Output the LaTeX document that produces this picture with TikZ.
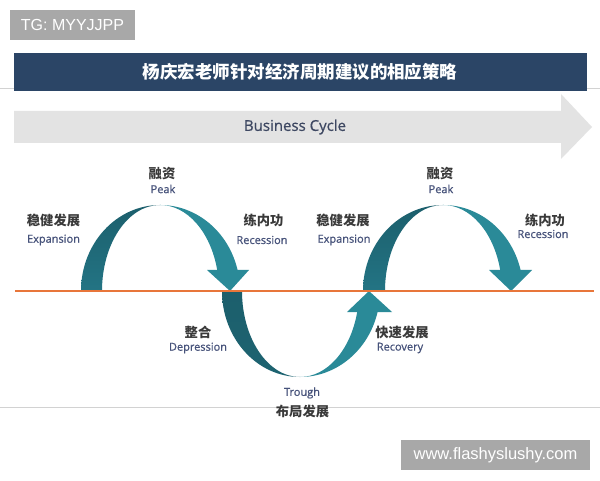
\documentclass[tikz,border=0pt]{standalone}
\usepackage{fontspec}
\setmainfont{Open Sans}
\newfontfamily\ensemi[FakeBold=0.7]{Open Sans}
\newfontfamily\cjk{Noto Sans CJK SC}
\newfontfamily\lib{Liberation Sans}
\definecolor{navy}{HTML}{2B4566}
\definecolor{cngray}{HTML}{3A3A3A}
\definecolor{engray}{HTML}{46527A}
\definecolor{bcgray}{HTML}{3E4862}
\definecolor{arrowgray}{HTML}{E3E3E3}
\definecolor{boxgray}{HTML}{A8A8A8}
\definecolor{rulegray}{HTML}{D2D2D2}
\definecolor{orangeline}{HTML}{E8763A}
\definecolor{tealdark}{HTML}{1C5F6C}
\definecolor{tealmid}{HTML}{237484}
\definecolor{teallight}{HTML}{2A8A98}
\tikzset{
  cn/.style={font=\cjk\bfseries\fontsize{13.3}{15}\selectfont, text=cngray, inner sep=0pt},
  en/.style={font=\ensemi\fontsize{11}{13}\selectfont, text=engray, inner sep=0pt},
  darkhalf/.style={top color=tealdark, bottom color=tealmid, draw=none},
  troughhalf/.style={top color=tealdark, bottom color=tealdark!80!tealmid, draw=none},
  lighthalf/.style={fill=teallight, draw=none},
  wmbox/.style={fill=boxgray, text=white, inner sep=0pt, font=\lib\fontsize{16}{18}\selectfont},
}
\begin{document}
\begin{tikzpicture}[x=1pt,y=1pt]
\useasboundingbox (0,0) rectangle (600,480);
\fill[white] (0,0) rectangle (600,480);

% thin rules
\draw[rulegray, line width=1pt] (0,391) -- (600,391);
\draw[rulegray, line width=1pt] (0,73) -- (600,73);

% watermark boxes
\fill[boxgray] (10,440) rectangle (135,470);
\node[wmbox, anchor=center] (tg) at (72.5,455) {TG: MYYJJPP};
\fill[boxgray] (401,10) rectangle (590,40);
\node[wmbox, font=\lib\fontsize{16.5}{18}\selectfont, anchor=center] (www) at (495.5,25) {www.flashyslushy.com};

% title bar
\fill[navy] (14,389) rectangle (587,427);
\node[font=\cjk\bfseries\fontsize{17.5}{20}\selectfont, text=white, inner sep=0pt] (title) at (300,408) {杨庆宏老师针对经济周期建议的相应策略};

% business cycle arrow
\fill[arrowgray] (14,337) -- (561,337) -- (561,321) -- (592,353) -- (561,386) -- (561,369) -- (14,369) -- cycle;
\node[font=\ensemi\fontsize{15}{17}\selectfont, text=bcgray, inner sep=0pt] (bc) at (295,353) {Business Cycle};

% arch 1
\path[darkhalf] (81,189) arc[start angle=180,end angle=90,x radius=79pt,y radius=86pt]
   arc[start angle=90,end angle=180,x radius=58pt,y radius=86pt] -- cycle;
\path[lighthalf] (160,275) arc[start angle=90,end angle=14.1,x radius=80pt,y radius=86pt]
   -- (217.2,210) arc[start angle=14.1,end angle=90,x radius=59pt,y radius=86pt] -- cycle;
\path[lighthalf] (207,210) -- (249,210) -- (230,189) -- cycle;

% trough
\path[troughhalf] (222,189) arc[start angle=180,end angle=270,x radius=78pt,y radius=86pt]
   arc[start angle=270,end angle=180,x radius=58pt,y radius=86pt] -- cycle;
\path[lighthalf] (300,103) arc[start angle=270,end angle=345.9,x radius=80pt,y radius=86pt]
   -- (357.2,168.05) arc[start angle=345.9,end angle=270,x radius=59pt,y radius=86pt] -- cycle;
\path[lighthalf] (347,168) -- (392,168) -- (369,189) -- cycle;

% arch 2
\path[darkhalf] (363,189) arc[start angle=180,end angle=90,x radius=80pt,y radius=86pt]
   arc[start angle=90,end angle=180,x radius=58pt,y radius=86pt] -- cycle;
\path[lighthalf] (443,275) arc[start angle=90,end angle=14.1,x radius=80pt,y radius=86pt]
   -- (500.2,210) arc[start angle=14.1,end angle=90,x radius=59pt,y radius=86pt] -- cycle;
\path[lighthalf] (489,210) -- (532,210) -- (511,189) -- cycle;

% orange axis
\draw[orangeline, line width=2.6pt] (15,189) -- (594,189);

% labels
\node[cn] (peak1cn) at (162,306) {融资};
\node[en] (peak1en) at (163,291) {Peak};
\node[cn] (exp1cn) at (53.5,260) {稳健发展};
\node[en] (exp1en) at (53.5,240) {Expansion};
\node[cn] (rec1cn) at (263.5,260) {练内功};
\node[en] (rec1en) at (262,240) {Recession};
\node[cn] (depcn) at (198,148) {整合};
\node[en] (depen) at (198,132) {Depression};
\node[cn] (recovcn) at (402,148) {快速发展};
\node[en] (recoven) at (400,132) {Recovery};
\node[en] (troughen) at (302,87) {Trough};
\node[cn] (troughcn) at (302.5,69) {布局发展};
\node[cn] (peak2cn) at (440,306) {融资};
\node[en] (peak2en) at (441,291) {Peak};
\node[cn] (exp2cn) at (343,260) {稳健发展};
\node[en] (exp2en) at (344,240) {Expansion};
\node[cn] (rec2cn) at (545,260) {练内功};
\node[en] (rec2en) at (543,246) {Recession};
\end{tikzpicture}
\end{document}
